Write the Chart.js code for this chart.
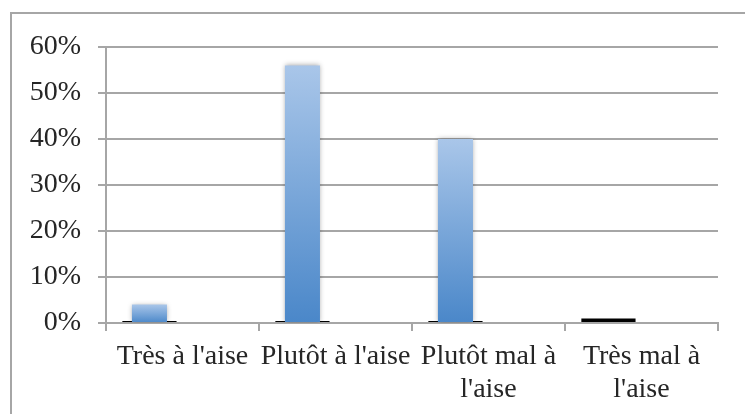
<!DOCTYPE html>
<html>
<head>
<meta charset="utf-8">
<script src="https://cdn.jsdelivr.net/npm/chart.js@4"></script>
<style>
  html, body { margin: 0; padding: 0; background: #ffffff; }
  #wrap { position: relative; width: 745px; height: 414px; }
</style>
</head>
<body>
<div id="wrap"><canvas id="c" width="745" height="414"></canvas></div>
<script>
// ---- data ----
const categories = [["Très à l'aise"], ["Plutôt à l'aise"], ["Plutôt mal à", "l'aise"], ["Très mal à", "l'aise"]];
const blueValues = [4, 56, 40, 0];
const blackValues = [0, 0, 0, 1];
const emptySeries = [null, null, null, null];
const yTickValues = [0, 10, 20, 30, 40, 50, 60];
const yTickLabels = ["0%", "10%", "20%", "30%", "40%", "50%", "60%"];

const GRID = '#a6a6a6';
const TEXT = '#262626';
Chart.defaults.font.family = "'Liberation Serif', 'Times New Roman', serif";

const framePlugin = {
  id: 'frame',
  beforeDraw(chart) {
    const ctx = chart.ctx;
    ctx.save();
    ctx.strokeStyle = GRID;
    ctx.lineWidth = 2;
    ctx.beginPath();
    ctx.moveTo(11, 414);
    ctx.lineTo(11, 13);
    ctx.lineTo(745, 13);
    ctx.stroke();
    ctx.restore();
  }
};

const shadowPlugin = {
  id: 'barShadow',
  beforeDatasetDraw(chart, args) {
    if (args.index !== 0) return;
    const ctx = chart.ctx;
    ctx.save();
    ctx.shadowColor = 'rgba(0,0,0,0.35)';
    ctx.shadowBlur = 5;
    ctx.shadowOffsetX = 0;
    ctx.shadowOffsetY = 0;
  },
  afterDatasetDraw(chart, args) {
    if (args.index !== 0) return;
    chart.ctx.restore();
  }
};

function blueGradient(context) {
  const chart = context.chart;
  const area = chart.chartArea;
  if (!area || context.parsed === undefined) return '#6f9fd8';
  const y = chart.scales.y;
  const v = context.parsed.y;
  const top = y.getPixelForValue(v);
  const bottom = y.getPixelForValue(0);
  if (!isFinite(top) || bottom - top < 1) return '#6f9fd8';
  const g = chart.ctx.createLinearGradient(0, top, 0, bottom);
  g.addColorStop(0, '#a9c6e9');
  g.addColorStop(1, '#4a87c9');
  return g;
}

new Chart(document.getElementById('c'), {
  type: 'bar',
  data: {
    labels: categories,
    datasets: [
      {
        label: 'Série 1',
        data: blueValues,
        stack: 'a',
        order: 0,
        backgroundColor: blueGradient,
        borderWidth: 0,
        categoryPercentage: 0.864,
        barPercentage: 0.53
      },
      {
        label: 'Série 2',
        data: blackValues,
        stack: 'a',
        order: 1,
        backgroundColor: '#000000',
        borderWidth: 0,
        minBarLength: 2,
        categoryPercentage: 0.864,
        barPercentage: 0.82
      },
      {
        label: 'Série 3',
        data: emptySeries,
        stack: 'b',
        order: 2,
        backgroundColor: 'rgba(0,0,0,0)',
        categoryPercentage: 0.864,
        barPercentage: 0.53
      }
    ]
  },
  options: {
    responsive: false,
    animation: false,
    devicePixelRatio: 1,
    layout: { padding: { left: 30, top: 47, right: 27, bottom: 0 } },
    plugins: { legend: { display: false }, tooltip: { enabled: false } },
    scales: {
      x: {
        grid: { display: true, drawOnChartArea: false, drawTicks: true, tickLength: 8, color: GRID, lineWidth: 2, offset: true },
        border: { display: true, color: GRID, width: 2 },
        ticks: { color: TEXT, padding: 10, maxRotation: 0, autoSkip: false, font: { size: 28, lineHeight: 1.15 } },
        afterFit(scale) { scale.height = 91; }
      },
      y: {
        stacked: false,
        min: 0,
        max: 60,
        afterBuildTicks(scale) { scale.ticks = yTickValues.map(v => ({ value: v })); },
        grid: { color: GRID, lineWidth: 2, drawTicks: true, tickLength: 8 },
        border: { display: true, color: GRID, width: 2 },
        ticks: {
          color: TEXT,
          padding: 17,
          font: { size: 28 },
          callback(value) { const i = yTickValues.indexOf(value); return i >= 0 ? yTickLabels[i] : ''; }
        },
        afterFit(scale) { scale.width = 76; }
      }
    }
  },
  plugins: [framePlugin, shadowPlugin]
});
</script>
</body>
</html>
